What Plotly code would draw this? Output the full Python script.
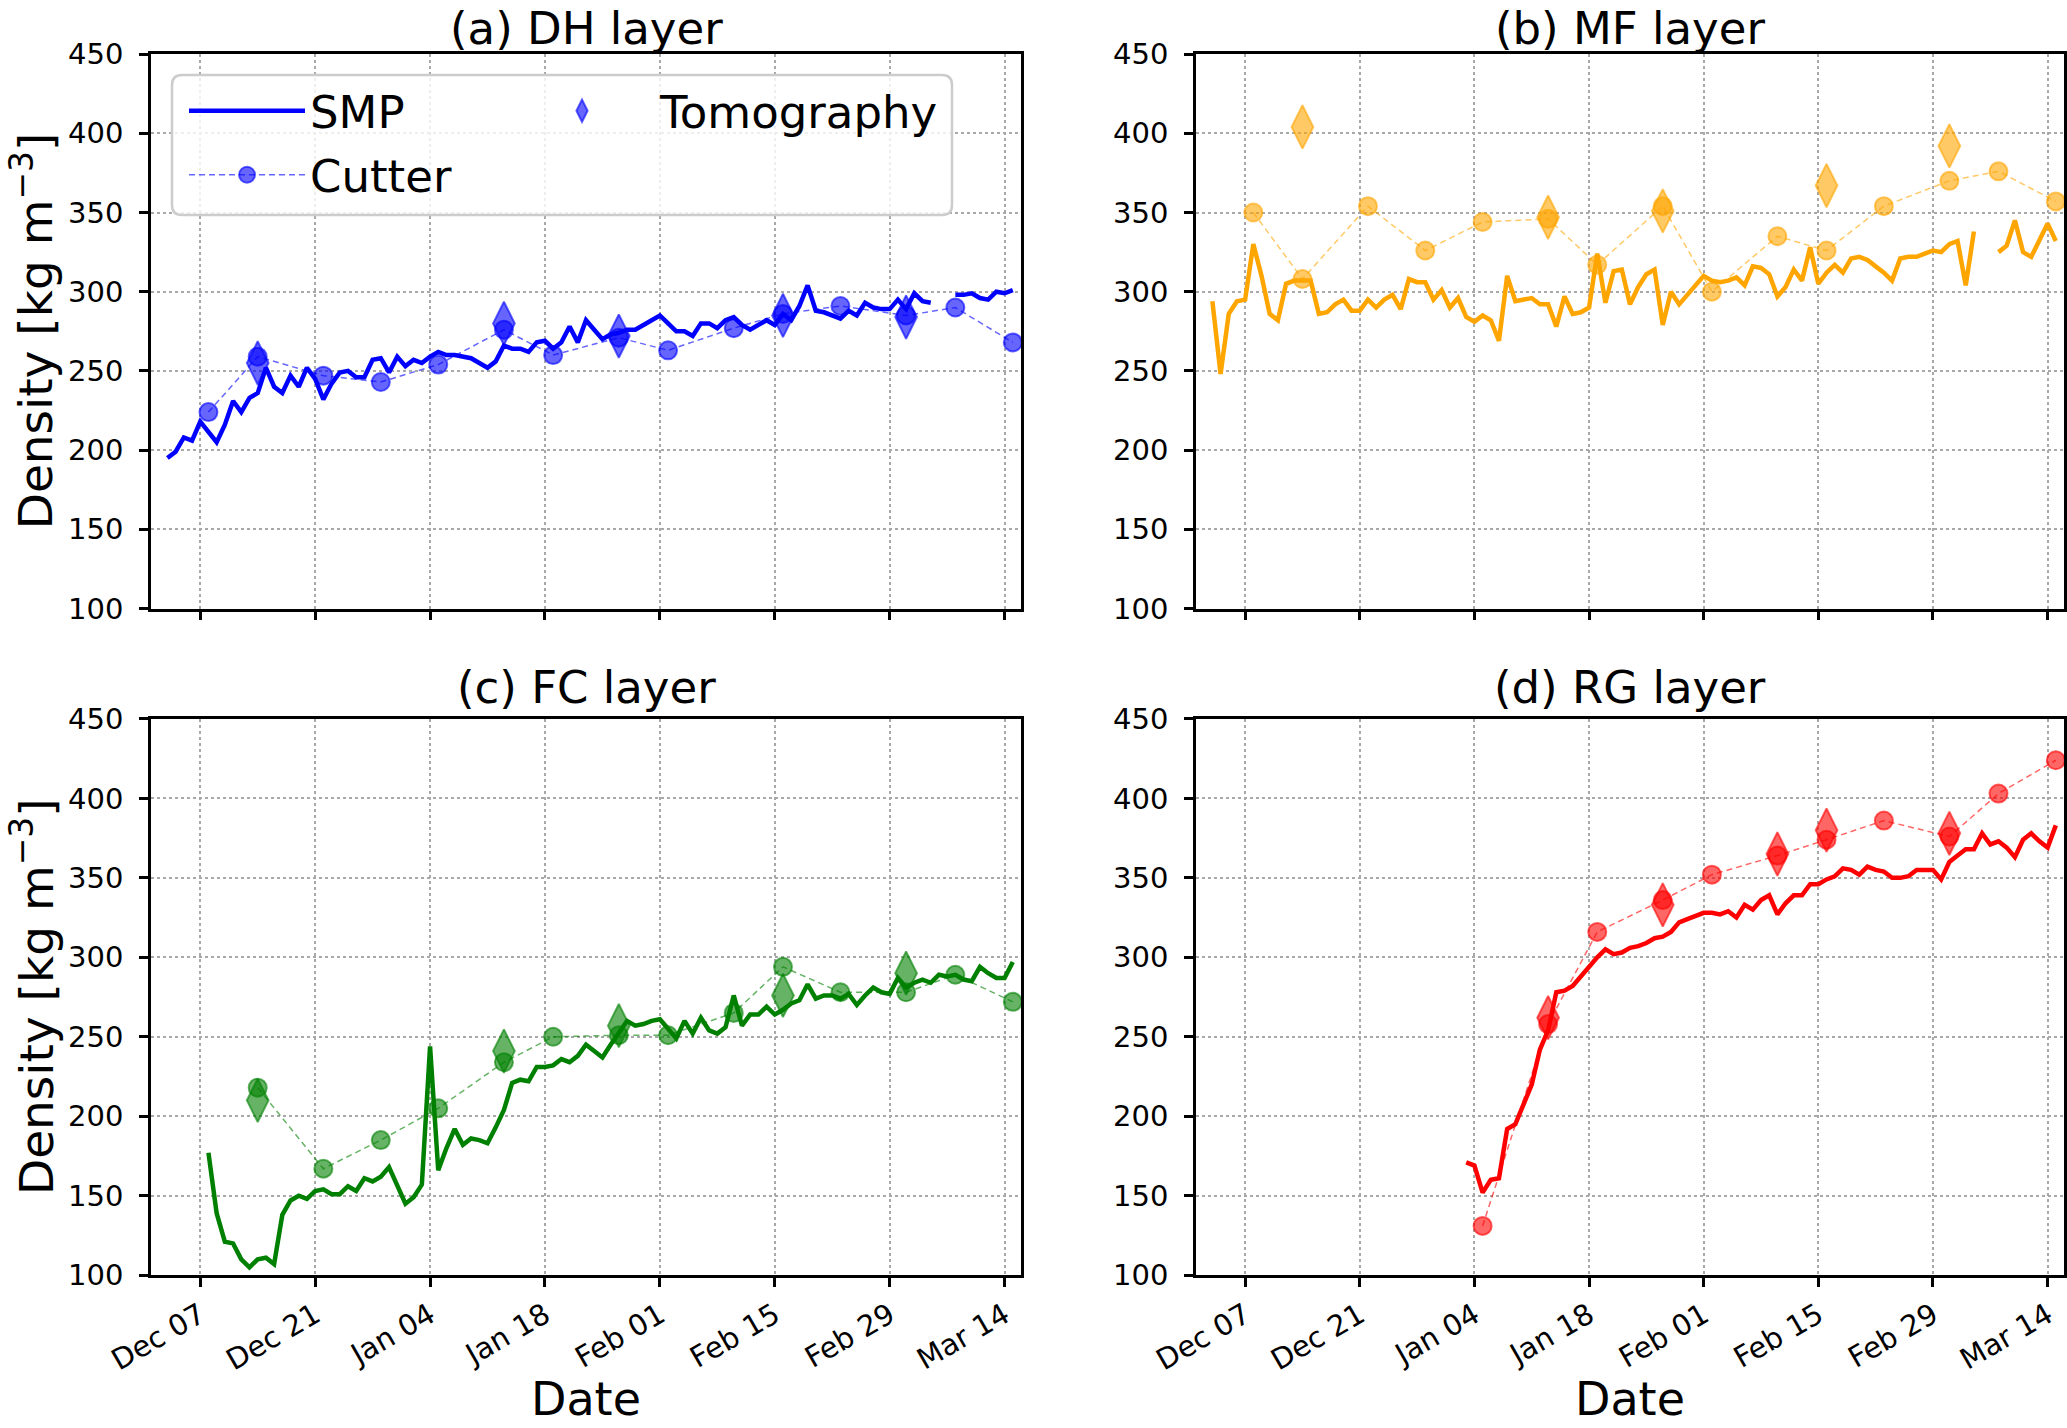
import pandas as pd
import plotly.graph_objects as go

FONT = "DejaVu Sans"
W, H = 2067, 1428

# ---- data (density, kg m-3) ----
# SMP: one value per day from the start date, None = no profile that day
smp_dh_start = "2015-12-03"
smp_dh = [195, 199, 208, 206, 218, 211, 205, 216, 231, 224, 233, 236, 252, 240, 236, 247,
          240, 252, 245, 232, 242, 249, 250, 246, 246, 257, 258, 249, 259, 253, 257, 255,
          259, 262, 260, 260, 259, 258, 255, 252, 256, 266, 264, 264, 262, 268, 269, 264,
          268, 278, 268, 282, 276, 270, 273, 274, 276, 276, 279, 282, 285, 280, 275, 275,
          272, 280, 280, 277, 282, 284, 279, 276, 279, 282, 279, 286, 282, 291, 304, 288,
          287, 285, 283, 288, 285, 293, 290, 289, 289, 295, 289, 299, 294, 293, None, None,
          298, 298, 299, 296, 295, 300, 299, 301]

smp_mf_start = "2015-12-03"
smp_mf = [294, 248, 286, 294, 295, 330, 310, 286, 282, 305, 307, 307, 307, 286, 287, 292,
          295, 288, 288, 295, 290, 295, 298, 289, 308, 306, 306, 295, 301, 290, 296, 284,
          281, 285, 282, 269, 310, 294, 295, 296, 292, 292, 278, 297, 286, 287, 290, 324,
          293, 313, 314, 292, 303, 311, 314, 279, 300, 292, 298, 304, 310, 307, 306, 307,
          309, 304, 316, 315, 311, 297, 303, 314, 307, 328, 305, 312, 317, 312, 321, 322,
          320, 316, 312, 307, 321, 322, 322, 324, 326, 325, 330, 332, 304, 338, None, None,
          325, 329, 345, 325, 322, 332, 343, 332]

smp_fc_start = "2015-12-08"
smp_fc = [177, 139, 121, 120, 110, 105, 110, 111, 107, 138, 147, 150, 148, 153, 154, 151,
          151, 156, 153, 161, 159, 162, 168, 156, 145, 149, 157, 244, 166, 180, 192, 182,
          186, 185, 183, 193, 204, 221, 223, 222, 231, 231, 232, 236, 234, 238, 245, 241,
          237, 245, 252, 260, 257, 258, 260, 261, 255, 249, 260, 252, 262, 254, 252, 256,
          276, 257, 264, 264, 269, 264, 267, 271, 273, 283, 274, 276, 276, 274, 277, 270,
          276, 281, 278, 277, 287, 281, 284, 286, 284, 289, 288, 289, 286, 285, 294, 290,
          287, 287, 297]

smp_rg_start = "2016-01-03"
smp_rg = [171, 169, 152, 160, 161, 192, 195, 208, 220, 242, 254, 278, 279, 282, 288, 295,
          300, 305, 302, 303, 306, 307, 309, 312, 313, 316, 322, 324, 326, 328, 328, 327,
          329, 325, 333, 330, 336, 339, 327, 334, 339, 339, 346, 346, 349, 351, 356, 355,
          352, 357, 355, 354, 350, 350, 351, 355, 355, 355, 349, 360, 364, 368, 368, 378,
          371, 373, 369, 363, 374, 378, 373, 369, 383]

# density cutter
cutter_dates = ["2015-12-08", "2015-12-14", "2015-12-22", "2015-12-29", "2016-01-05",
                "2016-01-13", "2016-01-19", "2016-01-27", "2016-02-02", "2016-02-10",
                "2016-02-16", "2016-02-23", "2016-03-02", "2016-03-08", "2016-03-15"]
cutter_dh = [224, 259, 247, 243, 254, 276, 260, 271, 263, 277, 286, 291, 285, 290, 268]
cutter_mf = [350, 308, 354, 326, 344, 346, 317, 354, 300, 335, 326, 354, 370, 376, 357]
cutter_fc = [218, 167, 185, 205, 234, 250, 251, 251, 265, 294, 278, 278, 289, 272]   # from Dec 14
cutter_rg = [131, 258, 316, 336, 352, 364, 374, 386, 376, 403, 424]                  # from Jan 05

# tomography
tomo_dates = ["2015-12-14", "2016-01-13", "2016-01-27", "2016-02-16", "2016-03-02"]
tomo_dates_rg = ["2016-01-13", "2016-01-27", "2016-02-10", "2016-02-16", "2016-03-02"]
tomo_dh = [255, 280, 272, 285, 284]
tomo_mf = [404, 347, 351, 367, 392]
tomo_fc = [210, 241, 257, 276, 290]
tomo_rg = [262, 333, 365, 380, 378]

tick_dates = ["2015-12-07", "2015-12-21", "2016-01-04", "2016-01-18",
              "2016-02-01", "2016-02-15", "2016-02-29", "2016-03-14"]
tick_labels = ["Dec 07", "Dec 21", "Jan 04", "Jan 18", "Feb 01", "Feb 15", "Feb 29", "Mar 14"]
density_ticks = [100, 150, 200, 250, 300, 350, 400, 450]

panels = [
    ("(a) DH layer", "0,0,255", smp_dh_start, smp_dh, cutter_dates, cutter_dh, tomo_dates, tomo_dh),
    ("(b) MF layer", "255,165,0", smp_mf_start, smp_mf, cutter_dates, cutter_mf, tomo_dates, tomo_mf),
    ("(c) FC layer", "0,128,0", smp_fc_start, smp_fc, cutter_dates[1:], cutter_fc, tomo_dates, tomo_fc),
    ("(d) RG layer", "255,0,0", smp_rg_start, smp_rg, cutter_dates[4:], cutter_rg, tomo_dates_rg, tomo_rg),
]


def px_x(p):
    return p / W


def px_y(p):
    return 1 - p / H


col_dom = [[px_x(151), px_x(1021)], [px_x(1196), px_x(2064)]]
row_dom = [[px_y(608.5), px_y(54.1)], [px_y(1275.2), px_y(718.9)]]

fig = go.Figure()
annotations = []

for i, (title, rgb, start, smp, cdates, cvals, tdates, tvals) in enumerate(panels):
    r, c = divmod(i, 2)
    n = "" if i == 0 else str(i + 1)
    xa, ya = "x" + n, "y" + n
    first = i == 0
    smp_dates = pd.date_range(start, periods=len(smp), freq="D")

    fig.add_trace(go.Scatter(
        x=smp_dates, y=smp, mode="lines", name="SMP", xaxis=xa, yaxis=ya,
        line=dict(color=f"rgb({rgb})", width=4.5), connectgaps=False,
        showlegend=first, legend="legend"))
    fig.add_trace(go.Scatter(
        x=cdates, y=cvals, mode="lines+markers", name="Cutter", xaxis=xa, yaxis=ya,
        line=dict(color=f"rgba({rgb},0.6)", width=1.5, dash="6px,4px"),
        marker=dict(symbol="circle", size=18, color=f"rgba({rgb},0.6)",
                    line=dict(color=f"rgba({rgb},0.6)", width=2)),
        showlegend=first, legend="legend2"))
    fig.add_trace(go.Scatter(
        x=tdates, y=tvals, mode="markers", name="Tomography", xaxis=xa, yaxis=ya,
        marker=dict(symbol="diamond-tall", size=31, color=f"rgba({rgb},0.6)",
                    line=dict(color=f"rgba({rgb},0.6)", width=2)),
        showlegend=first, legend="legend3"))

    axis_common = dict(showline=True, mirror=True, linecolor="black", linewidth=2.5,
                       ticks="outside", ticklen=9, tickwidth=2.5, tickcolor="black",
                       showgrid=True, gridcolor="#a8a8a8", gridwidth=2, griddash="dot",
                       zeroline=False, automargin=False,
                       tickfont=dict(family=FONT, size=29, color="black"))
    fig.update_layout({
        "xaxis" + n: dict(axis_common, domain=col_dom[c], anchor=ya, type="date",
                          range=["2015-12-01", "2016-03-16"],
                          tickvals=tick_dates, ticktext=tick_labels,
                          showticklabels=(r == 1), tickangle=-30),
        "yaxis" + n: dict(axis_common, domain=row_dom[r], anchor=xa,
                          range=[100, 450], tickvals=density_ticks, ticklabelstandoff=10),
    })

    xc = sum(col_dom[c]) / 2
    if r == 0:
        title_pos = dict(y=1, yanchor="top")
    else:
        title_pos = dict(y=px_y(687), yanchor="middle")
    annotations.append(dict(text=title, x=xc, xref="paper", yref="paper", showarrow=False,
                            xanchor="center", font=dict(family=FONT, size=45, color="black"),
                            **title_pos))
    if c == 0:
        annotations.append(dict(text="Density [kg m<sup>\u22123</sup>]", textangle=-90,
                                x=0, y=sum(row_dom[r]) / 2, xref="paper", yref="paper",
                                showarrow=False, xanchor="left", yanchor="middle",
                                font=dict(family=FONT, size=47, color="black")))
    if r == 1:
        annotations.append(dict(text="Date", x=xc, y=0, xref="paper", yref="paper",
                                showarrow=False, xanchor="center", yanchor="bottom",
                                font=dict(family=FONT, size=46, color="black")))

leg = dict(xanchor="left", yanchor="middle", bgcolor="rgba(0,0,0,0)", borderwidth=0,
           font=dict(family=FONT, size=45, color="black"), itemsizing="trace")

# legend frame with rounded corners (paper coordinates)
bx0, bx1, by0, by1 = px_x(172), px_x(952), px_y(215), px_y(75)
rx, ry = 10 / W, 10 / H
frame = (f"M{bx0 + rx},{by0} L{bx1 - rx},{by0} Q{bx1},{by0} {bx1},{by0 + ry} "
         f"L{bx1},{by1 - ry} Q{bx1},{by1} {bx1 - rx},{by1} L{bx0 + rx},{by1} "
         f"Q{bx0},{by1} {bx0},{by1 - ry} L{bx0},{by0 + ry} Q{bx0},{by0} {bx0 + rx},{by0} Z")

fig.update_layout(
    width=W, height=H, autosize=False,
    margin=dict(l=0, r=0, t=0, b=0, autoexpand=False),
    paper_bgcolor="white", plot_bgcolor="white",
    annotations=annotations,
    legend=dict(leg, x=px_x(184), y=px_y(111), itemwidth=116),
    legend2=dict(leg, x=px_x(184), y=px_y(175), itemwidth=116),
    legend3=dict(leg, x=px_x(504), y=px_y(111), itemwidth=146),
    shapes=[dict(type="path", path=frame, xref="paper", yref="paper", layer="above",
                 line=dict(color="#cccccc", width=2.5), fillcolor="rgba(255,255,255,0.8)")],
)

fig.write_html("out.html", config={"displayModeBar": False},
               post_script="document.body.style.margin='0';")
